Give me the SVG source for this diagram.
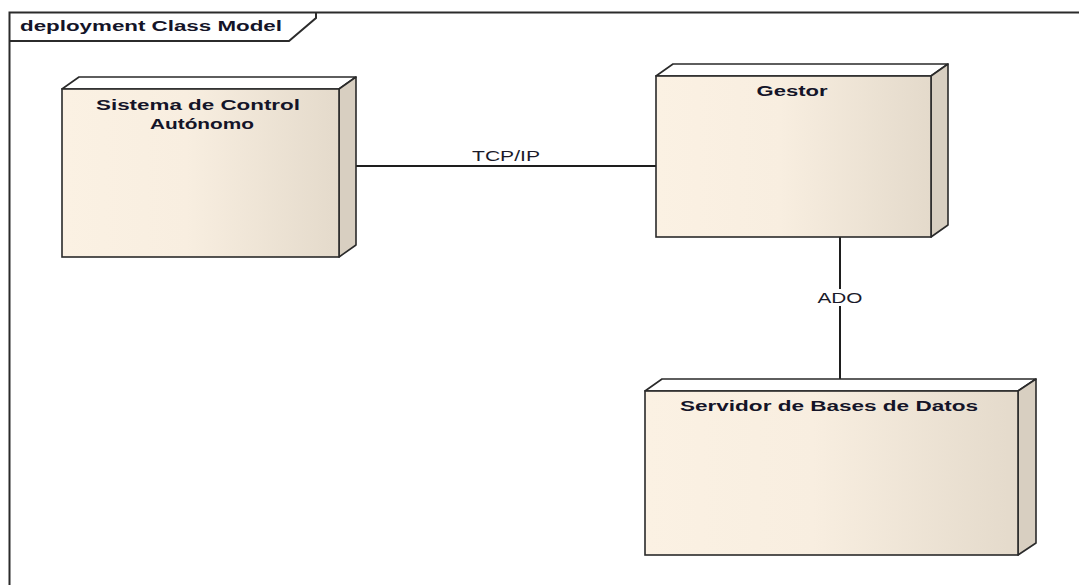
<svg xmlns="http://www.w3.org/2000/svg" width="1079" height="585" viewBox="0 0 1079 585">
  <defs>
    <linearGradient id="faceFill" x1="0" y1="0" x2="1" y2="0">
      <stop offset="0" stop-color="#fbf1e3"/>
      <stop offset="0.45" stop-color="#f8eee0"/>
      <stop offset="1" stop-color="#e4dacb"/>
    </linearGradient>
    <style>
      .frame { fill: none; stroke: #2b2b2b; stroke-width: 2; }
      .front { fill: url(#faceFill); stroke: #2a2a2a; stroke-width: 1.6; }
      .top { fill: #ffffff; stroke: #2a2a2a; stroke-width: 1.6; stroke-linejoin: round; }
      .side { fill: #d8cfc1; stroke: #2a2a2a; stroke-width: 1.6; stroke-linejoin: round; }
      .name { font-family: "Liberation Sans", Arial, sans-serif; font-weight: bold; font-size: 14px; fill: #141428; text-anchor: middle; }
      .title { font-family: "Liberation Sans", Arial, sans-serif; font-weight: bold; font-size: 14px; fill: #141428; }
      .link { stroke: #1e1e1e; stroke-width: 2; fill: none; }
      .label { font-family: "Liberation Sans", Arial, sans-serif; font-size: 14px; fill: #1a1a2a; text-anchor: middle; }
    </style>
  </defs>

  <rect x="0" y="0" width="1079" height="585" fill="#ffffff"/>

  <!-- diagram frame with its name tab -->
  <g id="frame">
    <rect class="frame" x="9.5" y="12.5" width="1090" height="600"/>
    <polyline class="frame" points="9.5,41 289,41 316,18 316,12.5"/>
    <text class="title" x="20" y="31" textLength="262" lengthAdjust="spacingAndGlyphs">deployment Class Model</text>
  </g>

  <!-- connectors -->
  <g id="connectors">
    <line class="link" x1="356" y1="166" x2="656" y2="166"/>
    <text class="label" x="506" y="161" textLength="68" lengthAdjust="spacingAndGlyphs">TCP/IP</text>
    <line class="link" x1="840" y1="237" x2="840" y2="379"/>
    <rect x="815" y="289" width="50" height="17" fill="#ffffff"/>
    <text class="label" x="840" y="303" textLength="45" lengthAdjust="spacingAndGlyphs">ADO</text>
  </g>

  <!-- node: Sistema de Control Autónomo -->
  <g id="node-sistema">
    <polygon class="top" points="62,89 79,77 356,77 339,89"/>
    <polygon class="side" points="339,89 356,77 356,245 339,257"/>
    <rect class="front" x="62" y="89" width="277" height="168"/>
    <text class="name" x="198" y="110" textLength="204" lengthAdjust="spacingAndGlyphs">Sistema de Control</text>
    <text class="name" x="202" y="129" textLength="104" lengthAdjust="spacingAndGlyphs">Autónomo</text>
  </g>

  <!-- node: Gestor -->
  <g id="node-gestor">
    <polygon class="top" points="656,76 673,64 948,64 931,76"/>
    <polygon class="side" points="931,76 948,64 948,225 931,237"/>
    <rect class="front" x="656" y="76" width="275" height="161"/>
    <text class="name" x="792" y="96" textLength="71" lengthAdjust="spacingAndGlyphs">Gestor</text>
  </g>

  <!-- node: Servidor de Bases de Datos -->
  <g id="node-servidor">
    <polygon class="top" points="645,391 662,379 1036,379 1018,391"/>
    <polygon class="side" points="1018,391 1036,379 1036,543 1018,555"/>
    <rect class="front" x="645" y="391" width="373" height="164"/>
    <text class="name" x="829" y="411" textLength="298" lengthAdjust="spacingAndGlyphs">Servidor de Bases de Datos</text>
  </g>
</svg>
